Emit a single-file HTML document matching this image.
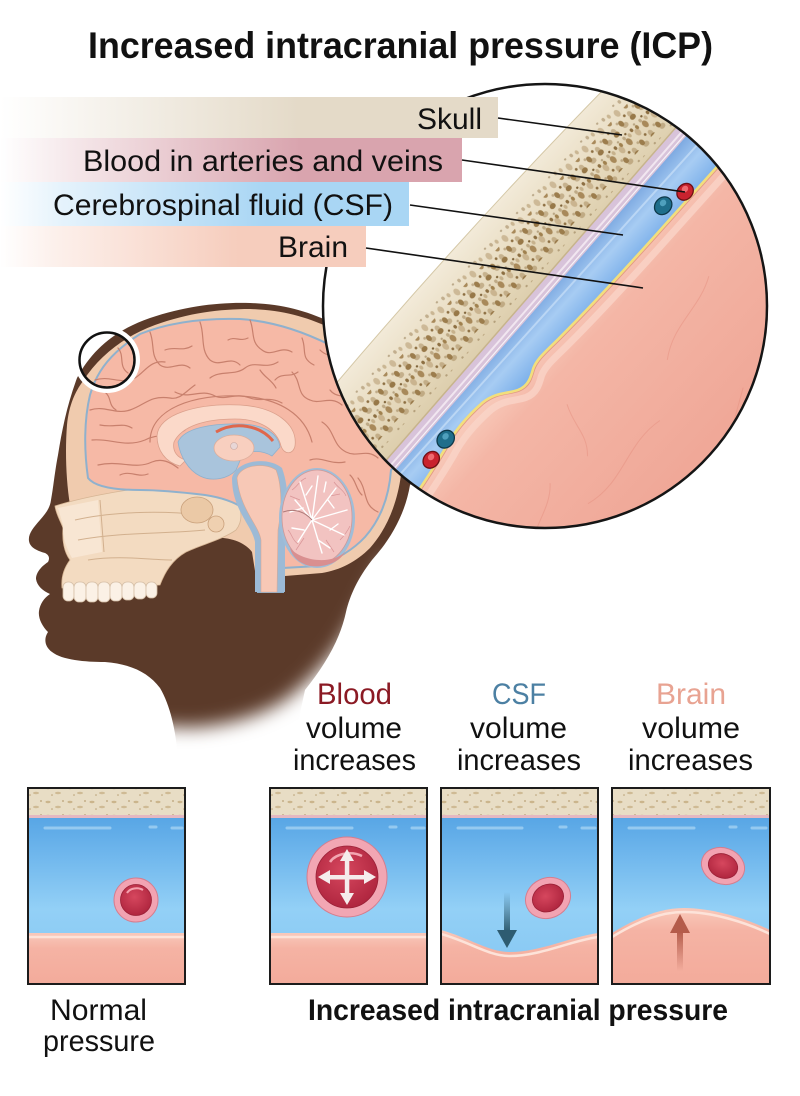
<!DOCTYPE html>
<html><head><meta charset="utf-8"><style>
html,body{margin:0;padding:0;background:#fff;}
svg{display:block;}
text{font-family:"Liberation Sans",Arial,sans-serif;}
</style></head><body>
<svg width="800" height="1096" viewBox="0 0 800 1096" xmlns="http://www.w3.org/2000/svg">
<defs>
 <clipPath id="bigC"><circle cx="545" cy="306" r="222"/></clipPath>
 <clipPath id="cp1"><rect x="28" y="788" width="157" height="196"/></clipPath>
 <clipPath id="cp2"><rect x="270" y="788" width="157" height="196"/></clipPath>
 <clipPath id="cp3"><rect x="441" y="788" width="157" height="196"/></clipPath>
 <clipPath id="cp4"><rect x="612" y="788" width="158" height="196"/></clipPath>

 <linearGradient id="gSkull" x1="0" x2="1" y1="0" y2="0">
  <stop offset="0" stop-color="#e4dac8" stop-opacity="0"/>
  <stop offset="0.15" stop-color="#e4dac8" stop-opacity="0.25"/>
  <stop offset="0.6" stop-color="#e4dac8" stop-opacity="1"/>
 </linearGradient>
 <linearGradient id="gBlood" x1="0" x2="1" y1="0" y2="0">
  <stop offset="0" stop-color="#d9a4ae" stop-opacity="0"/>
  <stop offset="0.15" stop-color="#d9a4ae" stop-opacity="0.25"/>
  <stop offset="0.65" stop-color="#d9a4ae" stop-opacity="1"/>
 </linearGradient>
 <linearGradient id="gCSF" x1="0" x2="1" y1="0" y2="0">
  <stop offset="0" stop-color="#a9d6f4" stop-opacity="0"/>
  <stop offset="0.15" stop-color="#a9d6f4" stop-opacity="0.3"/>
  <stop offset="0.65" stop-color="#a9d6f4" stop-opacity="1"/>
 </linearGradient>
 <linearGradient id="gBrain" x1="0" x2="1" y1="0" y2="0">
  <stop offset="0" stop-color="#f6cdbd" stop-opacity="0"/>
  <stop offset="0.15" stop-color="#f6cdbd" stop-opacity="0.3"/>
  <stop offset="0.65" stop-color="#f6cdbd" stop-opacity="1"/>
 </linearGradient>

 <filter id="blur9" x="-20%" y="-20%" width="140%" height="140%"><feGaussianBlur stdDeviation="9"/></filter>
 <mask id="headMask" maskUnits="userSpaceOnUse" x="0" y="0" width="800" height="1096">
  <path fill="#fff" filter="url(#blur9)" d="M-50,-50 L850,-50 L850,540 L385,560 C370,590 356,618 342,640 C326,664 306,684 285,700 C260,716 230,724 200,727 C185,728 175,727 165,726 L100,745 L-50,745 Z"/>
 </mask>

 <linearGradient id="csfC" gradientUnits="userSpaceOnUse" x1="86" y1="0" x2="136" y2="0">
  <stop offset="0" stop-color="#77a4de"/><stop offset="0.5" stop-color="#a7ccf3"/><stop offset="1" stop-color="#7cb0ea"/>
 </linearGradient>
 <linearGradient id="brainC" gradientUnits="userSpaceOnUse" x1="115" y1="0" x2="380" y2="0">
  <stop offset="0" stop-color="#f8cbbb"/><stop offset="0.15" stop-color="#f4b6a6"/><stop offset="1" stop-color="#eea292"/>
 </linearGradient>
 <linearGradient id="boneC" gradientUnits="userSpaceOnUse" x1="-10" y1="0" x2="86" y2="0">
  <stop offset="0" stop-color="#f3ebda"/><stop offset="0.5" stop-color="#e8dcc1"/><stop offset="1" stop-color="#dccdab"/>
 </linearGradient>
 <pattern id="pits" patternUnits="userSpaceOnUse" width="28" height="24">
  <ellipse cx="5" cy="5" rx="3.4" ry="2.5" fill="#9c7d4d"/>
  <ellipse cx="17" cy="3" rx="2" ry="1.6" fill="#8d6f42"/>
  <ellipse cx="23" cy="13" rx="4" ry="2.9" fill="#a8895a"/>
  <ellipse cx="9" cy="16" rx="2.7" ry="3.3" fill="#977848"/>
  <circle cx="15" cy="10" r="1.2" fill="#7e6238"/>
  <circle cx="2" cy="21" r="1.4" fill="#8d6f42"/>
  <ellipse cx="19" cy="21" rx="2.4" ry="1.7" fill="#a0814f"/>
 </pattern>
 <pattern id="speck" patternUnits="userSpaceOnUse" width="22" height="14">
  <ellipse cx="4" cy="4" rx="2.5" ry="1.2" fill="#cbb58c"/>
  <ellipse cx="14" cy="9" rx="3" ry="1.3" fill="#cfba94"/>
  <circle cx="19" cy="3" r="0.9" fill="#b89f74"/>
  <circle cx="8" cy="11" r="0.8" fill="#b89f74"/>
 </pattern>
 <linearGradient id="bluePanel" x1="0" x2="0" y1="0" y2="1">
  <stop offset="0" stop-color="#58a6e5"/><stop offset="0.2" stop-color="#6db5ec"/>
  <stop offset="0.55" stop-color="#93d0f6"/><stop offset="1" stop-color="#84c6f2"/>
 </linearGradient>
 <linearGradient id="brainPanel" x1="0" x2="0" y1="0" y2="1">
  <stop offset="0" stop-color="#f9c9bb"/><stop offset="0.3" stop-color="#f5b3a4"/><stop offset="1" stop-color="#f3ab9b"/>
 </linearGradient>
 <radialGradient id="rbcIn" cx="0.45" cy="0.4" r="0.6">
  <stop offset="0" stop-color="#d6475e"/><stop offset="1" stop-color="#b0263f"/>
 </radialGradient>
 <linearGradient id="arrDown" x1="0" x2="0" y1="0" y2="1">
  <stop offset="0" stop-color="#2e5c71" stop-opacity="0"/><stop offset="1" stop-color="#2e5c71" stop-opacity="1"/>
 </linearGradient>
 <linearGradient id="arrUp" x1="0" x2="0" y1="0" y2="1">
  <stop offset="0" stop-color="#b45b4a" stop-opacity="1"/><stop offset="1" stop-color="#b45b4a" stop-opacity="0"/>
 </linearGradient>
</defs>

<!-- ============ HEAD ============ -->
<g>
 <path mask="url(#headMask)" fill="#5b3a29" d="M77,378 C92,350 115,330 150,318 C185,306 220,302 250,303 C280,304 305,310 330,322 L420,380 L440,450 L410,485 C405,515 390,540 372,560 C358,578 350,595 346,612 C340,640 325,665 305,690 L290,760 L178,760 C176,730 170,705 160,688 C148,672 130,664 105,662 C85,662 62,660 52,652 C44,646 44,638 48,632 C42,626 38,618 39,611 C40,604 44,598 50,594 C43,591 37,586 36,579 C36,572 42,566 48,562 C50,558 49,555 45,553 C38,551 30,548 29,541 C28,534 33,528 40,520 C46,513 50,508 51,500 C53,490 55,470 58,455 C62,430 67,405 77,378 Z"/>
 <!-- cranium bone -->
 <path fill="#f0cbae" d="M70,505 C66,480 65,450 67,425 C69,405 75,392 83,381 C100,355 125,336 155,325 C188,313 220,309 250,309 C280,310 305,316 330,328 L425,345 L432,445 L401,475 C397,505 386,530 370,548 C356,562 340,570 322,573 L285,576 L258,590 L252,552 C245,542 228,536 210,538 L160,522 L110,512 Z"/>
 <!-- face bones -->
 <path fill="#f3dbc1" stroke="#d6b594" stroke-width="0.8" d="M55,506 C80,498 120,490 160,486 C190,484 215,486 232,496 C242,505 244,520 236,530 C222,540 200,545 186,552 C172,560 165,572 160,585 L62,588 C61,578 64,568 70,560 C64,552 62,540 63,528 C60,520 56,514 55,506 Z"/>
 <path fill="#f8e6d3" d="M58,508 L98,500 L102,552 L72,558 C66,548 62,535 63,525 Z"/>
 <path fill="none" stroke="#d2b08e" stroke-width="1" d="M75,520 C110,512 160,510 200,515 M78,540 C120,532 165,534 205,530 M88,560 C120,555 150,560 172,560 M100,500 L104,552"/>
 <ellipse cx="197" cy="510" rx="16" ry="13" fill="#ebc9a6" stroke="#c9a07b" stroke-width="0.8"/>
 <circle cx="216" cy="524" r="8" fill="#efd0b0" stroke="#c9a07b" stroke-width="0.8"/>
 <!-- teeth -->
 <g fill="#fbf1e6" stroke="#d6c0a8" stroke-width="0.8">
  <rect x="63" y="582" width="11" height="19" rx="5"/>
  <rect x="74" y="582" width="12" height="20" rx="5"/>
  <rect x="86" y="582" width="12" height="20" rx="5"/>
  <rect x="98" y="582" width="12" height="20" rx="5"/>
  <rect x="110" y="582" width="12" height="19" rx="5"/>
  <rect x="122" y="582" width="12" height="18" rx="5"/>
  <rect x="134" y="582" width="12" height="17" rx="5"/>
  <rect x="146" y="582" width="11" height="16" rx="5"/>
 </g>
 <!-- brain -->
 <path fill="#f6b9a6" stroke="#8fb1cd" stroke-width="2" d="M88,478 C84,450 84,420 90,395 C97,370 112,352 140,334 C170,322 205,318 240,319 C270,321 300,330 330,345 L420,350 L420,440 L391,470 C389,498 380,520 365,537 C352,551 335,560 318,566 L283,568 L283,592 L258,592 L256,520 C245,505 225,498 205,495 C180,492 160,490 140,490 C115,490 95,487 88,478 Z"/>
 <!-- gyri -->
 <g fill="none" stroke="#c8806d" stroke-width="1.2" stroke-linecap="round">
  <path d="M95,380 C110,375 120,385 135,378 C145,372 150,360 165,362"/>
  <path d="M90,410 C105,405 115,415 130,410 C145,405 150,395 170,398 C180,400 185,392 195,385"/>
  <path d="M92,440 C110,438 125,448 145,440 C160,432 170,440 185,430"/>
  <path d="M98,465 C120,460 135,470 152,462 C162,458 170,462 178,468"/>
  <path d="M150,332 C155,345 150,355 160,365 C170,372 180,360 190,368"/>
  <path d="M200,322 C205,335 200,350 210,360 C220,368 230,355 240,365"/>
  <path d="M250,320 C255,332 250,342 262,350 C272,358 280,345 292,352"/>
  <path d="M118,348 C125,356 118,366 128,373"/>
  <path d="M175,392 C190,400 200,388 215,396 C225,401 235,392 250,398 C260,402 270,396 282,403"/>
  <path d="M210,378 C220,370 235,376 245,368 C255,360 265,370 278,362"/>
  <path d="M292,372 C302,382 296,395 310,400 C320,405 330,395 342,405"/>
  <path d="M302,338 C307,350 300,358 314,365"/>
  <path d="M322,422 C335,430 332,445 346,452 C358,458 366,448 378,458"/>
  <path d="M345,378 C356,388 352,403 366,408 C378,412 384,404 392,410"/>
  <path d="M310,460 C322,456 330,465 345,462"/>
  <path d="M358,478 C368,490 362,505 378,512"/>
  <path d="M150,442 C150,408 195,394 240,396 C280,398 305,415 312,442"/>
  <path d="M320,350 C330,360 340,352 352,362"/>
  <path d="M105,392 C112,398 108,405 116,410"/>
  <path d="M100,425 C115,428 122,422 132,428"/>
  <path d="M165,350 C175,346 182,352 192,346"/>
  <path d="M228,340 C235,336 240,342 248,338"/>
  <path d="M275,380 C282,372 290,378 298,372"/>
  <path d="M330,390 C336,398 344,394 350,400"/>
  <path d="M360,430 C368,436 376,432 384,440"/>
  <path d="M350,475 C356,480 356,490 362,495"/>
  <path d="M120,475 C130,470 138,478 148,474"/>
  <path d="M260,370 C265,378 272,380 276,388"/>
 </g>
 <!-- corpus callosum -->
 <path fill="#fbd9c9" stroke="#dba08c" stroke-width="0.8" d="M157,436 C158,414 198,403 240,405 C275,407 298,424 295,446 C293,455 284,455 281,446 C277,430 260,419 235,419 C205,419 182,426 174,442 C172,452 178,458 186,460 L180,466 C165,462 157,450 157,436 Z"/>
 <!-- ventricle -->
 <path fill="#a9c4dc" stroke="#8fb0cc" stroke-width="0.8" d="M178,442 C184,428 212,423 242,424 C264,425 278,433 280,447 L272,456 C262,450 250,450 242,456 L236,470 C228,479 212,482 200,476 C188,470 180,456 178,442 Z"/>
 <ellipse cx="234" cy="448" rx="20" ry="13" fill="#f8cfbf" stroke="#dcae9c" stroke-width="0.8"/>
 <circle cx="234" cy="446" r="3.5" fill="#e8d6d6" stroke="#c6a6a0" stroke-width="0.6"/>
 <path fill="none" stroke="#e0674c" stroke-width="3" d="M216,432 C235,421 260,425 273,441"/>
 <!-- brainstem -->
 <path fill="#9cbad6" d="M232,478 C236,460 268,456 282,468 C290,490 288,515 285,535 L285,592 L255,592 L255,542 C252,525 232,510 232,478 Z"/>
 <path fill="#f7c8b6" stroke="#d9a994" stroke-width="0.6" d="M237,478 C240,465 265,462 276,470 C282,485 282,510 278,530 L277,592 L261,592 L261,540 C259,525 240,510 237,478 Z"/>
 <!-- cerebellum -->
 <ellipse cx="317" cy="518" rx="38" ry="50" fill="#9fbdd8"/>
 <ellipse cx="317" cy="517" rx="35" ry="47" fill="#f2c3c1" stroke="#cf9a98" stroke-width="0.8"/>
 <path fill="#d98f90" d="M290,548 C300,560 330,566 345,552 C340,562 325,568 310,566 C298,563 292,556 290,548 Z"/>
 <g fill="none" stroke="#d99597" stroke-width="0.7">
  <path d="M292,490 C298,486 300,480 306,478 M334,482 C338,488 344,490 346,496 M288,530 C292,534 292,540 298,544 M340,540 C344,536 348,530 350,526 M300,500 L290,496 M330,496 L340,494 M304,538 L296,550 M326,540 L334,552"/>
 </g>
 <g fill="none" stroke="#fff" stroke-width="1.4" stroke-linecap="round">
  <path d="M312,520 L295,500 M312,520 L300,482 M312,520 L318,476 M312,520 L336,488 M312,520 L347,510 M312,520 L344,535 M312,520 L322,553 M312,520 L298,542 M303,508 L290,512 M306,495 L312,486 M328,500 L334,508 M330,530 L338,524 M318,540 L330,548 M304,530 L292,528 M324,492 L326,482"/>
 </g>
 <path fill="none" stroke="#b07a78" stroke-width="1" d="M283,512 C295,508 305,512 312,520"/>
 <!-- small circle -->
 <circle cx="107" cy="360" r="30.5" fill="none" stroke="#fff" stroke-width="5"/>
 <circle cx="107" cy="360" r="27.5" fill="none" stroke="#111" stroke-width="2.5"/>
</g>

<!-- ============ BIG CIRCLE ============ -->
<g clip-path="url(#bigC)">
 <rect x="300" y="60" width="500" height="500" fill="#fff"/>
 <g transform="translate(600,98) rotate(41.9)">
  <path d="M60,-140 L60,600 L700,600 L700,-140 Z" fill="url(#csfC)"/>
  <path d="M104,-140 L102,600" stroke="#c3dcf7" stroke-width="2" opacity="0.8"/>
  <path d="M74.5,-140 L85.5,600 L99,600 L88,-140 Z" fill="#d8c3da"/>
  <path d="M82,-140 L92,600" stroke="#f1e6f0" stroke-width="2"/>
  <path d="M86,-140 L97,600" stroke="#fff" stroke-width="1.2" opacity="0.8"/>
  <path fill="url(#brainC)" d="M133,-140 L133,60 C133,120 132,170 130,205 C129,225 127,236 131,246 C135,254 139,262 134,272 C128,283 119,288 116,305 C113,330 115,350 119,365 C123,385 126,405 128,420 C130,460 130,540 130,600 L700,600 L700,-140 Z"/>
  <path fill="none" stroke="#fad6c9" stroke-width="7" opacity="0.75" transform="translate(11,0)" d="M133,-140 L133,60 C133,120 132,170 130,205 C129,225 127,236 131,246 C135,254 139,262 134,272 C128,283 119,288 116,305 C113,330 115,350 119,365 C123,385 126,405 128,420 C130,460 130,540 130,600"/>
  <path fill="none" stroke="#e39a84" stroke-width="1" transform="translate(1.8,0)" d="M133,-140 L133,60 C133,120 132,170 130,205 C129,225 127,236 131,246 C135,254 139,262 134,272 C128,283 119,288 116,305 C113,330 115,350 119,365 C123,385 126,405 128,420 C130,460 130,540 130,600"/>
  <path fill="none" stroke="#f2df7c" stroke-width="2.6" d="M133,-140 L133,60 C133,120 132,170 130,205 C129,225 127,236 131,246 C135,254 139,262 134,272 C128,283 119,288 116,305 C113,330 115,350 119,365 C123,385 126,405 128,420 C130,460 130,540 130,600"/>
  <g fill="none" stroke="#e5907f" stroke-width="1" opacity="0.5">
   <path d="M200,60 C215,90 205,120 225,150 M260,200 C250,240 275,270 262,310 M220,320 C240,340 235,370 258,392 M300,120 L320,160 M180,250 C200,262 215,258 230,275 M290,360 L305,330"/>
  </g>
  <path fill="url(#boneC)" d="M4,-140 Q-20,230 4,600 L85.5,600 L74.5,-140 Z"/>
  <rect x="24" y="-140" width="40" height="740" fill="url(#pits)"/>
  <rect x="14" y="-130" width="58" height="740" fill="url(#pits)" opacity="0.45" transform="translate(0,11)"/>
  <path d="M74.5,-140 L85.5,600" stroke="#c7b48c" stroke-width="1.5"/>
  <path d="M4,-140 Q-20,230 4,600" fill="none" stroke="#d4c7a6" stroke-width="1"/>
  <!-- vessels -->
  <ellipse cx="126" cy="13" rx="7.5" ry="9" fill="#c9222e" stroke="#6e0f16" stroke-width="1.3"/>
  <ellipse cx="124" cy="11" rx="3" ry="3.5" fill="#ef6a70"/>
  <ellipse cx="119" cy="38" rx="8" ry="9.5" fill="#1f6e8b" stroke="#0e394a" stroke-width="1.3"/>
  <ellipse cx="117" cy="36" rx="3" ry="3.5" fill="#4fa0bd"/>
  <ellipse cx="113" cy="357" rx="8" ry="9.5" fill="#1f6e8b" stroke="#0e394a" stroke-width="1.3"/>
  <ellipse cx="111" cy="355" rx="3" ry="3.5" fill="#4fa0bd"/>
  <ellipse cx="116" cy="382" rx="7.5" ry="9" fill="#c9222e" stroke="#6e0f16" stroke-width="1.3"/>
  <ellipse cx="114" cy="380" rx="3" ry="3.5" fill="#ef6a70"/>
 </g>
</g>
<circle cx="545" cy="306" r="222" fill="none" stroke="#151515" stroke-width="2.5"/>

<!-- ============ LABEL BARS ============ -->
<rect x="0" y="97" width="498" height="41" fill="url(#gSkull)"/>
<rect x="0" y="138" width="462" height="44" fill="url(#gBlood)"/>
<rect x="0" y="182" width="409" height="44" fill="url(#gCSF)"/>
<rect x="0" y="226" width="366" height="41" fill="url(#gBrain)"/>

<g stroke="#111" stroke-width="1.6">
 <line x1="498" y1="118" x2="622" y2="135"/>
 <line x1="462" y1="160" x2="685" y2="192"/>
 <line x1="410" y1="205" x2="623" y2="235"/>
 <line x1="366" y1="248" x2="643" y2="288"/>
</g>

<g fill="#111" font-size="30">
 <text x="417" y="129" textLength="65" lengthAdjust="spacingAndGlyphs">Skull</text>
 <text x="83" y="171" textLength="360" lengthAdjust="spacingAndGlyphs">Blood in arteries and veins</text>
 <text x="53" y="215" textLength="340" lengthAdjust="spacingAndGlyphs">Cerebrospinal fluid (CSF)</text>
 <text x="278" y="257" textLength="70" lengthAdjust="spacingAndGlyphs">Brain</text>
</g>

<text x="88" y="58" font-size="37" font-weight="bold" fill="#111" textLength="625" lengthAdjust="spacingAndGlyphs">Increased intracranial pressure (ICP)</text>

<!-- ============ PANEL HEADERS ============ -->
<g font-size="30" fill="#111">
 <text x="317" y="704" fill="#8b1a24" textLength="75" lengthAdjust="spacingAndGlyphs">Blood</text>
 <text x="306" y="738" textLength="96" lengthAdjust="spacingAndGlyphs">volume</text>
 <text x="293" y="770" textLength="123" lengthAdjust="spacingAndGlyphs">increases</text>
 <text x="492" y="704" fill="#4c80a3" textLength="54" lengthAdjust="spacingAndGlyphs">CSF</text>
 <text x="470" y="738" textLength="97" lengthAdjust="spacingAndGlyphs">volume</text>
 <text x="457" y="770" textLength="124" lengthAdjust="spacingAndGlyphs">increases</text>
 <text x="656" y="704" fill="#e8a392" textLength="70" lengthAdjust="spacingAndGlyphs">Brain</text>
 <text x="642" y="738" textLength="98" lengthAdjust="spacingAndGlyphs">volume</text>
 <text x="628" y="770" textLength="125" lengthAdjust="spacingAndGlyphs">increases</text>
</g>

<!-- ============ PANELS ============ -->
<!-- Panel 1 Normal -->
<g clip-path="url(#cp1)">
 <rect x="28" y="788" width="157" height="29" fill="#e8ddc5"/>
 <rect x="28" y="788" width="157" height="28" fill="url(#speck)"/>
 <rect x="28" y="815" width="157" height="3" fill="#e4b8c2"/>
 <rect x="28" y="818" width="157" height="166" fill="url(#bluePanel)"/>
 <path d="M45,828 L110,828 M150,827 L156,827 M172,828 L182,828" stroke="#d8f0fd" stroke-width="3" stroke-linecap="round" opacity="0.45"/>
 <rect x="28" y="933" width="157" height="51" fill="url(#brainPanel)"/>
 <path d="M28,937 L185,937" stroke="#fde3d9" stroke-width="2.5"/>
</g>
<rect x="28" y="788" width="157" height="196" fill="none" stroke="#1c1c1c" stroke-width="2"/>
<circle cx="136" cy="900" r="22" fill="#f2a3b2" stroke="#d57d8e" stroke-width="1"/>
<circle cx="136" cy="900" r="15.5" fill="url(#rbcIn)" stroke="#9a2036" stroke-width="0.8"/>
<path d="M127,893 C130,888 138,887 143,890" fill="none" stroke="#f5a0ad" stroke-width="2"/>

<!-- Panel 2 Blood -->
<g clip-path="url(#cp2)">
 <rect x="270" y="788" width="157" height="29" fill="#e8ddc5"/>
 <rect x="270" y="788" width="157" height="28" fill="url(#speck)"/>
 <rect x="270" y="815" width="157" height="3" fill="#e4b8c2"/>
 <rect x="270" y="818" width="157" height="166" fill="url(#bluePanel)"/>
 <path d="M287,828 L352,828 M390,827 L396,827 M412,828 L424,828" stroke="#d8f0fd" stroke-width="3" stroke-linecap="round" opacity="0.45"/>
 <rect x="270" y="933" width="157" height="51" fill="url(#brainPanel)"/>
 <path d="M270,937 L427,937" stroke="#fde3d9" stroke-width="2.5"/>
</g>
<rect x="270" y="788" width="157" height="196" fill="none" stroke="#1c1c1c" stroke-width="2"/>
<circle cx="347" cy="877" r="40" fill="#f2a6b3" stroke="#d57d8e" stroke-width="1"/>
<circle cx="347" cy="877" r="31" fill="url(#rbcIn)" stroke="#9a2036" stroke-width="0.8"/>
<path d="M330,862 C336,853 352,851 362,856" fill="none" stroke="#f3a6b2" stroke-width="2.5"/>
<g fill="#f5ecec">
 <rect x="328" y="875" width="38" height="4.5"/>
 <rect x="344.8" y="857" width="4.5" height="40"/>
 <polygon points="318,877 330,870 330,884"/>
 <polygon points="376,877 364,870 364,884"/>
 <polygon points="347,849 340,861 354,861"/>
 <polygon points="347,905 340,893 354,893"/>
</g>

<!-- Panel 3 CSF -->
<g clip-path="url(#cp3)">
 <rect x="441" y="788" width="157" height="29" fill="#e8ddc5"/>
 <rect x="441" y="788" width="157" height="28" fill="url(#speck)"/>
 <rect x="441" y="815" width="157" height="3" fill="#e4b8c2"/>
 <rect x="441" y="818" width="157" height="166" fill="url(#bluePanel)"/>
 <path d="M458,828 L522,828 M560,827 L566,827 M582,828 L595,828" stroke="#d8f0fd" stroke-width="3" stroke-linecap="round" opacity="0.45"/>
 <path d="M441,930 C470,938 488,952 510,952 C540,952 570,937 598,933 L598,984 L441,984 Z" fill="url(#brainPanel)"/>
 <path d="M441,934 C470,942 488,956 510,956 C540,956 570,941 598,937" fill="none" stroke="#fde3d9" stroke-width="2.5"/>
</g>
<rect x="441" y="788" width="157" height="196" fill="none" stroke="#1c1c1c" stroke-width="2"/>
<rect x="504" y="892" width="6" height="40" fill="url(#arrDown)"/>
<polygon points="497,930 517,930 507,948" fill="#2e5c71"/>
<g transform="translate(548,898) rotate(-25)">
 <ellipse cx="0" cy="0" rx="23" ry="20" fill="#f2a3b2" stroke="#d57d8e" stroke-width="1"/>
 <ellipse cx="0" cy="0" rx="16" ry="13.5" fill="url(#rbcIn)" stroke="#9a2036" stroke-width="0.8"/>
</g>

<!-- Panel 4 Brain -->
<g clip-path="url(#cp4)">
 <rect x="612" y="788" width="158" height="29" fill="#e8ddc5"/>
 <rect x="612" y="788" width="158" height="28" fill="url(#speck)"/>
 <rect x="612" y="815" width="158" height="3" fill="#e4b8c2"/>
 <rect x="612" y="818" width="158" height="166" fill="url(#bluePanel)"/>
 <path d="M629,828 L694,828 M730,827 L736,827 M752,828 L766,828" stroke="#d8f0fd" stroke-width="3" stroke-linecap="round" opacity="0.45"/>
 <path d="M612,933 C640,916 662,908 684,908 C712,908 745,918 770,930 L770,984 L612,984 Z" fill="url(#brainPanel)"/>
 <path d="M612,937 C640,920 662,912 684,912 C712,912 745,922 770,934" fill="none" stroke="#fde3d9" stroke-width="2.5"/>
</g>
<rect x="612" y="788" width="158" height="196" fill="none" stroke="#1c1c1c" stroke-width="2"/>
<rect x="677" y="931" width="6" height="40" fill="url(#arrUp)"/>
<polygon points="670,933 690,933 680,914" fill="#b45b4a"/>
<g transform="translate(723,866) rotate(20)">
 <ellipse cx="0" cy="0" rx="22" ry="18" fill="#f2a3b2" stroke="#d57d8e" stroke-width="1"/>
 <ellipse cx="0" cy="0" rx="15" ry="12" fill="url(#rbcIn)" stroke="#9a2036" stroke-width="0.8"/>
</g>

<!-- bottom labels -->
<g font-size="30" fill="#111">
 <text x="50" y="1020" textLength="97" lengthAdjust="spacingAndGlyphs">Normal</text>
 <text x="43" y="1051" textLength="112" lengthAdjust="spacingAndGlyphs">pressure</text>
</g>
<text x="308" y="1020" font-size="30" font-weight="bold" fill="#111" textLength="420" lengthAdjust="spacingAndGlyphs">Increased intracranial pressure</text>
</svg>
</body></html>
